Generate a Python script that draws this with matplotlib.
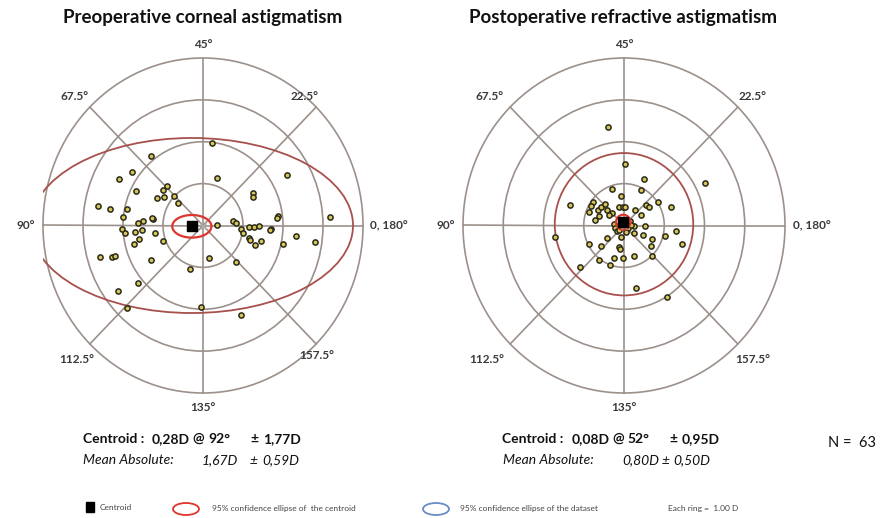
import numpy as np
import matplotlib
matplotlib.use("Agg")
import matplotlib.pyplot as plt
from matplotlib.patches import Ellipse, Circle

plt.rcParams['font.family'] = ['Lato', 'DejaVu Sans']

# double-angle vector components (D): x = C*cos(2a), y = C*sin(2a)
pre_x = [0.22, -1.30, -1.77, -2.10, 0.34, 2.09, -1.68, -0.89, -1.01, -1.16,
         -0.97, -0.73, -0.63, 1.24, 1.24, -2.63, -2.33, -1.91, -1.99, -1.26,
         -1.49, -1.63, 1.88, 1.86, 3.18, 0.35, 0.76, 0.83, -2.03, -1.95,
         -1.53, -1.69, -1.19, -1.61, -1.73, -0.99, 0.94, 1.01, 1.15, 1.28,
         1.39, 1.69, 1.68, 1.14, 1.18, 1.31, 1.46, 2.01, 2.33, 2.81,
         -2.58, -2.27, -2.19, -1.30, 0.15, 0.83, -0.32, -1.62, -2.13, -1.90,
         -0.06, 0.96, -1.27]
pre_y = [1.97, 1.65, 1.27, 1.11, 1.14, 1.21, 0.82, 0.95, 0.85, 0.66,
         0.69, 0.70, 0.54, 0.77, 0.67, 0.47, 0.39, 0.39, 0.21, 0.16,
         0.11, 0.05, 0.23, 0.17, 0.21, 0.01, 0.10, 0.06, -0.08, -0.19,
         -0.11, -0.16, -0.17, -0.32, -0.44, -0.36, -0.08, -0.18, -0.04, -0.04,
         -0.02, -0.08, -0.11, -0.31, -0.34, -0.47, -0.37, -0.44, -0.24, -0.40,
         -0.76, -0.76, -0.74, -0.82, -0.78, -0.88, -1.05, -1.37, -1.56, -1.98,
         -1.94, -2.13, 0.18]

post_x = [-0.40, 0.03, 0.50, 2.01, -0.31, 0.42, -0.08, -1.34, -0.78, -0.81,
          -0.87, -0.64, -0.58, -0.46, -0.71, -0.43, -0.30, -0.37, -0.12, -0.03,
          0.03, 0.28, 0.43, 0.54, 0.61, 0.84, 1.17, -0.24, -0.23, -0.18,
          0.25, 0.51, 0.25, 0.47, 0.69, 1.01, 1.28, 1.44, -1.72, -0.87,
          -0.58, -0.41, -0.08, -0.13, -0.10, 0.68, -0.62, -0.24, -0.03, 0.26,
          0.70, -1.10, -0.34, 0.30, 1.08, -0.63, 0.07, 0.10, -0.08, 0.15,
          -0.12, 0.05, 0.18]
post_y = [2.36, 1.46, 1.11, 1.01, 0.88, 0.85, 0.70, 0.50, 0.56, 0.46,
          0.33, 0.36, 0.45, 0.52, 0.12, 0.37, 0.29, 0.24, 0.44, 0.45,
          0.44, 0.36, 0.24, 0.49, 0.44, 0.56, 0.44, 0.04, -0.06, -0.12,
          -0.02, -0.02, -0.17, -0.22, -0.33, -0.25, -0.12, -0.44, -0.28, -0.44,
          -0.48, -0.31, -0.28, -0.52, -0.56, -0.48, -0.82, -0.77, -0.77, -0.73,
          -0.73, -0.98, -0.95, -1.50, -1.71, 0.23, 0.08, -0.05, 0.12, 0.10,
          -0.10, -0.15, 0.02]

# centroid magnitude (D) and axis (deg)
pre_centroid = (0.28, 92)
post_centroid = (0.08, 52)
# 95% ellipse semi-axes (D)
pre_centroid_ell = (0.49, 0.27)
post_centroid_ell = (0.18, 0.18)
pre_data_ell = (4.03, 2.09)
post_data_ell = (1.72, 1.70)

rings = [1, 2, 3, 4]
W, H = 887, 518
grid_col = '#9c908b'


def fx(px):
    return px / W


def fy(py):
    return 1 - py / H


def draw_panel(ax, xs, ys, centroid, cell, dell, dell_center, labels):
    ax.set_xlim(-4, 4)
    ax.set_ylim(-4, 4)
    ax.axis('off')
    for r in rings:
        ax.add_patch(Circle((0, 0), r, fill=False, ec=grid_col, lw=1.2, clip_on=False))
    for k in range(8):
        a = np.deg2rad(45 * k)
        ax.plot([0, 4 * np.cos(a)], [0, 4 * np.sin(a)], color=grid_col, lw=1.2,
                clip_on=False, zorder=1)
    mag, axis = centroid
    cx = mag * np.cos(np.deg2rad(2 * axis))
    cy = mag * np.sin(np.deg2rad(2 * axis))
    ax.add_patch(Ellipse(dell_center, 2 * dell[0], 2 * dell[1], fill=False,
                         ec='#a8504c', lw=1.3, zorder=2))
    ax.scatter(xs, ys, s=14, c='#d8c65a', edgecolors='#2a2a18', linewidths=1.1,
               zorder=3, clip_on=False)
    ax.add_patch(Ellipse((cx, cy), 2 * cell[0], 2 * cell[1], fill=False,
                         ec='#e0352c', lw=1.6, zorder=4))
    ax.plot([0], [0], marker='x', ms=4, color='#aab0a8', zorder=4)
    ax.scatter([cx], [cy], marker='s', s=42, c='black', zorder=5)
    for txt, x, y, ha in labels:
        ax.text(x, y, txt, ha=ha, va='center', fontsize=8.5, fontweight='bold',
                color='#3a3a3a', clip_on=False)


fig = plt.figure(figsize=(W / 100, H / 100), dpi=100)
fig.patch.set_facecolor('white')

ax1 = fig.add_axes([fx(43), fy(393), 320 / W, 335 / H])
ax2 = fig.add_axes([fx(463), fy(393), 322 / W, 335 / H])

draw_panel(ax1, pre_x, pre_y, pre_centroid, pre_centroid_ell, pre_data_ell,
           (-0.28, 0.0),
           [('45°', 0, 4.33, 'center'), ('135°', 0, -4.35, 'center'),
            ('67.5°', -3.2, 3.07, 'center'), ('22.5°', 2.55, 3.07, 'center'),
            ('112.5°', -3.15, -3.2, 'center'), ('157.5°', 2.85, -3.1, 'center'),
            ('90°', -4.2, 0, 'right'), ('0, 180°', 4.18, 0, 'left')])
draw_panel(ax2, post_x, post_y, post_centroid, post_centroid_ell, post_data_ell,
           (0.0, 0.03),
           [('45°', 0, 4.33, 'center'), ('135°', 0, -4.35, 'center'),
            ('67.5°', -3.35, 3.07, 'center'), ('22.5°', 3.2, 3.07, 'center'),
            ('112.5°', -3.4, -3.19, 'center'), ('157.5°', 3.2, -3.19, 'center'),
            ('90°', -4.2, 0, 'right'), ('0, 180°', 4.2, 0, 'left')])

fig.text(fx(203), fy(18), 'Preoperative corneal astigmatism', ha='center',
         va='center', fontsize=13.5, fontweight='bold', color='#111111')
fig.text(fx(623), fy(18), 'Postoperative refractive astigmatism', ha='center',
         va='center', fontsize=13.5, fontweight='bold', color='#111111')

# summary statistics below each panel
bold = dict(fontsize=10, fontweight='bold', va='center', color='#111111')
ital = dict(fontsize=10, style='italic', va='center', color='#111111')
fig.text(fx(83), fy(439), 'Centroid :', **bold)
fig.text(fx(152), fy(439), '0,28D', **bold)
fig.text(fx(192), fy(439), '@', **bold)
fig.text(fx(208), fy(439), '92°', **bold)
fig.text(fx(250), fy(439), '±', **bold)
fig.text(fx(263), fy(439), '1,77D', **bold)
fig.text(fx(83), fy(460), 'Mean Absolute:', **ital)
fig.text(fx(202), fy(460), '1,67D', **ital)
fig.text(fx(250), fy(460), '±', **ital)
fig.text(fx(262), fy(460), '0,59D', **ital)

fig.text(fx(502), fy(439), 'Centroid :', **bold)
fig.text(fx(572), fy(439), '0,08D', **bold)
fig.text(fx(612), fy(439), '@', **bold)
fig.text(fx(627), fy(439), '52°', **bold)
fig.text(fx(669), fy(439), '±', **bold)
fig.text(fx(682), fy(439), '0,95D', **bold)
fig.text(fx(503), fy(460), 'Mean Absolute:', **ital)
fig.text(fx(622), fy(460), '0,80D', **ital)
fig.text(fx(662), fy(460), '±', **ital)
fig.text(fx(673), fy(460), '0,50D', **ital)

fig.text(fx(828), fy(443), 'N =  63', fontsize=10.5, va='center', color='#111111')

# legend row
lg = fig.add_axes([0, 0, 1, 1], facecolor='none')
lg.set_xlim(0, W)
lg.set_ylim(H, 0)
lg.axis('off')
lg.add_patch(plt.Rectangle((86, 502), 8, 10, color='black'))
lg.add_patch(Ellipse((186, 509), 26, 12, fill=False, ec='#e0352c', lw=1.3))
lg.add_patch(Ellipse((436, 509), 26, 12, fill=False, ec='#6a8cc8', lw=1.3))
small = dict(fontsize=6, va='center', color='#444444')
lg.text(100, 508, 'Centroid', **small)
lg.text(212, 508, '95% confidence ellipse of  the centroid', **small)
lg.text(460, 508, '95% confidence ellipse of the dataset', **small)
lg.text(668, 508, 'Each ring =  1.00 D', **small)

fig.savefig('out.png', dpi=100, facecolor='white')
